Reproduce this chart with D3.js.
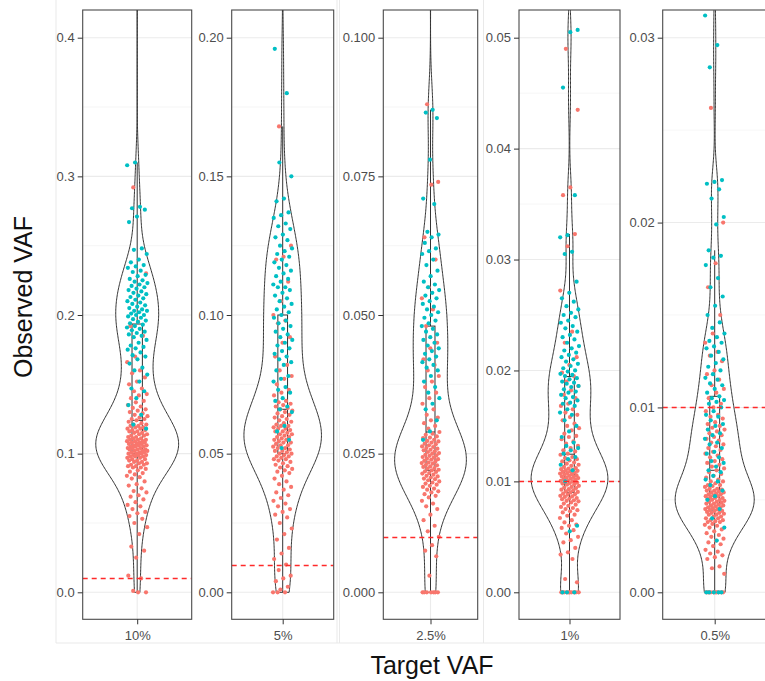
<!DOCTYPE html>
<html>
<head>
<meta charset="utf-8">
<script src="https://cdn.jsdelivr.net/npm/d3@7"></script>
<style>
body { margin: 0; background: #fff; }
svg { display: block; font-family: "Liberation Sans", Arial, sans-serif; }
</style>
</head>
<body>
<div id="chart"></div>
<script>
// facet labels and y tick labels, one set per target VAF
var targets = ["10%", "5%", "2.5%", "1%", "0.5%"];
var ticks10 = ["0.0", "0.1", "0.2", "0.3", "0.4"];
var ticks5 = ["0.00", "0.05", "0.10", "0.15", "0.20"];
var ticks25 = ["0.000", "0.025", "0.050", "0.075", "0.100"];
var ticks1 = ["0.00", "0.01", "0.02", "0.03", "0.04", "0.05"];
var ticks05 = ["0.00", "0.01", "0.02", "0.03"];
var refLine = [0.01, 0.01, 0.01, 0.01, 0.01];
// value units used by the point lists below
var units = [0.001, 0.001, 0.001, 0.0001, 0.0001];

// observed VAF per variant (10% target), x 0.001
var vaf10Teal = [520, 450, 310, 308, 278, 277, 276, 271, 267, 248, 247, 244, 240, 238, 236, 235, 234, 232, 231, 229, 228, 226, 225, 224, 223, 222, 221, 220, 219, 218, 217, 216, 215, 214, 213, 212, 211, 210, 209, 208, 207, 206, 205, 204, 203, 203, 202, 201, 200, 200, 199, 198, 197, 196, 195, 194, 193, 192, 191, 190, 189, 188, 187, 186, 185, 184, 182, 180, 178, 177, 176, 175, 173, 171, 170, 168, 165, 162, 160, 157, 152, 147, 145, 140, 135, 128, 121, 118];
var vaf10Red = [292, 230, 195, 192, 185, 170, 166, 160, 158, 155, 152, 150, 147, 145, 143, 142, 140, 138, 137, 135, 134, 133, 132, 131, 130, 129, 128, 127, 126, 125, 125, 124, 123, 122, 121, 121, 120, 120, 119, 119, 118, 118, 117, 117, 116, 116, 115, 115, 114, 114, 113, 113, 112, 112, 111, 111, 110, 110, 110, 109, 109, 109, 108, 108, 108, 107, 107, 107, 106, 106, 106, 105, 105, 105, 104, 104, 104, 103, 103, 103, 102, 102, 102, 101, 101, 101, 100, 100, 100, 99, 99, 99, 98, 98, 98, 97, 97, 96, 96, 95, 95, 94, 94, 93, 93, 92, 92, 91, 91, 90, 90, 89, 88, 87, 86, 85, 84, 83, 82, 80, 78, 77, 75, 73, 72, 70, 69, 67, 65, 63, 62, 60, 58, 57, 55, 53, 50, 47, 42, 33, 30, 25, 12, 10, 1, 0, 0];

// 5% target, x 0.001
var vaf5Teal = [260, 230, 196, 180, 155, 150, 142, 141, 137, 136, 135, 133, 132, 131, 129, 128, 127, 125, 124, 123, 122, 121, 120, 119, 118, 117, 116, 115, 114, 113, 112, 111, 110, 110, 109, 108, 107, 106, 105, 104, 103, 102, 101, 100, 99, 98, 97, 96, 95, 94, 93, 92, 91, 90, 89, 88, 87, 86, 85, 84, 83, 82, 80, 78, 77, 76, 74, 73, 72, 70, 69, 67, 66, 65, 60, 58, 55, 52];
var vaf5Red = [168, 125, 121, 120, 112, 105, 100, 98, 97, 92, 90, 85, 82, 80, 78, 77, 75, 73, 72, 71, 69, 68.5, 68, 67.5, 67, 66.5, 66, 65.5, 65, 64.5, 64, 63.5, 63, 62.5, 62, 61.5, 61, 60.5, 60, 60, 59.5, 59, 59, 58.5, 58, 58, 57.5, 57, 57, 56.5, 56, 56, 55.5, 55, 55, 54.5, 54, 54, 53.5, 53, 53, 52.5, 52, 52, 51.5, 51, 51, 50.5, 50, 50, 49.5, 49, 49, 48.5, 48, 48, 47.5, 47, 46.5, 46, 45.5, 45, 44.5, 44, 43.5, 43, 42, 41, 40, 39, 38, 37, 36, 35, 34, 33, 32, 31, 30, 29, 28, 27, 25, 23, 21, 19, 16, 14, 12, 10, 8, 6, 5, 4, 2, 1, 0, 0, 0];

// 2.5% target, x 0.001
var vaf25Teal = [130, 115, 87, 86.5, 85.5, 78, 71, 70, 65, 64.5, 64, 63, 62, 61.5, 61, 60, 59, 58, 57, 56, 55.5, 55, 54.5, 54, 53.5, 53, 52.5, 52, 51.5, 51, 50.5, 50, 49.5, 49, 48.5, 48, 47.5, 47, 46.5, 46, 45.5, 45, 44.5, 44, 43.5, 43, 42.5, 42, 41.5, 41, 40.5, 40, 39, 38, 37, 36, 35, 34, 33, 31, 29, 27.5];
var vaf25Red = [88, 74, 73.5, 64, 60, 55, 53, 51, 48, 45, 44, 42, 41, 40, 39, 38, 37, 36, 35, 34, 33, 32, 31.5, 31, 30.5, 30, 29.5, 28.9, 28.6, 28.4, 28.1, 27.9, 27.8, 27.5, 27.3, 27.2, 27.0, 26.8, 26.7, 26.5, 26.3, 26.2, 26.0, 25.9, 25.7, 25.6, 25.4, 25.3, 25.1, 25.0, 24.8, 24.7, 24.6, 24.4, 24.3, 24.1, 24.0, 23.9, 23.7, 23.6, 23.4, 23.3, 23.2, 23.0, 22.9, 22.7, 22.6, 22.4, 22.3, 22.1, 22.0, 21.8, 21.7, 21.5, 21.4, 21.2, 21.0, 20.9, 20.7, 20.5, 20.4, 20.2, 20.0, 19.8, 19.6, 19.4, 19.2, 19.0, 18.7, 18.5, 18.2, 18.0, 17.7, 17.4, 17.1, 16.5, 16, 15.5, 15, 14, 13, 12, 11, 10, 8.5, 7.5, 6.5, 3, 0, 0, 0, 0, 0, 0, 0];

// 1% target, x 0.0001
var vaf1Teal = [600, 560, 507, 505, 455, 358, 322, 320, 307, 305, 280, 270, 265, 262, 258, 255, 252, 250, 248, 245, 243, 240, 238, 235, 232, 230, 228, 225, 222, 220, 218, 216, 214, 212, 210, 208, 206, 204, 202, 200, 199, 197, 196, 195, 193, 192, 190, 189, 188, 186, 185, 183, 181, 180, 178, 176, 175, 173, 171, 170, 168, 165, 162, 160, 155, 150, 145, 140, 135, 132, 130, 128, 125, 122, 120, 115, 110, 100, 60, 55, 0, 0, 0];
var vaf1Red = [490, 435, 365, 358, 323, 312, 272, 235, 225, 212, 205, 198, 195, 190, 186, 182, 178, 175, 170, 168, 165, 162, 160, 158, 155, 152, 150, 148, 146, 143, 141, 140, 138, 136, 134, 132, 130, 128, 127, 125, 124, 122, 121, 120, 119, 118, 117, 116, 115, 114, 113, 112, 111.5, 111, 110.5, 110, 109.5, 109, 108.5, 108, 107.5, 107, 106.5, 106, 105.5, 105, 104.5, 104, 103.5, 103, 102.5, 102, 101.5, 101, 100.5, 100, 99.5, 99, 98.5, 98, 97.5, 97, 96, 95, 94.5, 94, 93, 92.5, 92, 91, 90.5, 90, 89, 88.5, 88, 87, 86.5, 86, 85, 84.5, 84, 83, 82.5, 82, 81, 80, 79, 78, 77, 76, 75, 74, 73, 72, 70, 69, 67, 65, 63, 61, 60, 58, 56, 53, 50, 47, 45, 40, 36, 34, 30, 12, 9, 0, 0, 0, 0, 0, 0, 0, 0, 0, 0];

// 0.5% target, x 0.0001
var vaf05Teal = [380, 340, 312, 296, 284, 223, 222, 221, 218, 213, 203, 199, 185, 182, 181, 177, 170, 165, 160, 155, 150, 146, 143, 140, 138, 136, 135, 133, 132, 130, 128, 126, 124, 122, 120, 118, 116, 115, 113, 112, 110, 108, 106, 105, 104, 103, 102, 100, 98, 96, 95, 93, 91, 90, 88, 86, 85, 83, 81, 80, 78, 76, 75, 73, 71, 70, 68, 66, 65, 63, 61, 60, 58, 55, 52, 50, 45, 40, 35, 28, 0, 0, 0, 0, 0];
var vaf05Red = [262, 200, 178, 165, 150, 140, 135, 130, 128, 125, 120, 118, 115, 112, 110, 108, 105, 102, 100, 98, 96, 95, 94, 92, 91, 90, 89, 88, 87, 86, 85, 84, 83, 82, 81, 80, 79, 78, 77, 76, 75, 74, 73, 72, 71, 70, 69, 68, 67, 66, 65, 64, 63, 62, 61, 60, 60, 59, 58, 58, 57.5, 57, 56, 56, 55.5, 55, 55, 54.5, 54, 54, 53.5, 53, 53, 52.5, 52, 52, 51.5, 51, 51, 50.5, 50, 50, 49.5, 49, 49, 48.5, 48, 48, 47.5, 47, 47, 46.5, 46, 46, 45.5, 45, 45, 44.5, 44, 44, 43.5, 43, 43, 42.5, 42, 42, 41, 41, 40, 40, 39, 39, 38.5, 38, 38, 37, 36.5, 36, 35, 34, 33, 32, 31, 30, 29, 28, 27, 26, 25, 23, 22, 21, 20, 19, 18, 14, 13, 10, 0, 0, 0, 0, 0, 0, 0, 0, 0, 0];

var tickSets = [ticks10, ticks5, ticks25, ticks1, ticks05];
var redSets = [vaf10Red, vaf5Red, vaf25Red, vaf1Red, vaf05Red];
var tealSets = [vaf10Teal, vaf5Teal, vaf25Teal, vaf1Teal, vaf05Teal];

var color_red = "#F8766D", color_teal = "#00BFC4";
var width = 765, height = 681;
var panelLeft = [82.7, 231.7, 383.3, 519, 662.7],
	panelRight = [191.7, 333.7, 477.7, 620, 766.7];
var panelTop = 10, panelBottom = 619.3,
	yZero = 592.3, yTopTick = 37.7;
var bwAdjust = 0.8;

function bwNrd0(v) {
	var s = d3.deviation(v),
		iqr = d3.quantile(v, 0.75) - d3.quantile(v, 0.25);
	var lo = Math.min(s, iqr / 1.34);
	if (!(lo > 0)) lo = s;
	return 0.9 * lo * Math.pow(v.length, -0.2);
}

function density(v, bw, n) {
	var lo = d3.min(v), hi = d3.max(v);
	return d3.range(n).map(function (k) {
		var y = lo + (hi - lo) * k / (n - 1), s = 0;
		for (var j = 0; j < v.length; j++) {
			var u = (y - v[j]) / bw;
			s += Math.exp(-0.5 * u * u);
		}
		return [y, s / (v.length * bw * Math.sqrt(2 * Math.PI))];
	});
}

var svg = d3.select("#chart").append("svg")
	.attr("width", width)
	.attr("height", height);

// faint frames of the pasted sub-figures
var frame = svg.append("g").attr("stroke", "#e9e9e9").attr("stroke-width", 1);
[56, 337, 339.5, 483.5].forEach(function (fx) {
	frame.append("line").attr("x1", fx).attr("x2", fx).attr("y1", 0).attr("y2", 643);
});
frame.append("line").attr("x1", 56).attr("x2", 765).attr("y1", 643).attr("y2", 643);

targets.forEach(function (target, i) {
	var labels = tickSets[i],
		tickVals = labels.map(function (d) { return +d; }),
		top = d3.max(tickVals),
		step = tickVals[1] - tickVals[0],
		unit = units[i];

	var red = redSets[i].map(function (d) { return d * unit; }),
		teal = tealSets[i].map(function (d) { return d * unit; }),
		all = red.concat(teal).sort(d3.ascending);

	var y = d3.scaleLinear().domain([0, top]).range([yZero, yTopTick]);
	var x = d3.scalePoint().domain([target]).range([panelLeft[i], panelRight[i]]).padding(0.5);
	var cx = x(target),
		pw = panelRight[i] - panelLeft[i];

	var g = svg.append("g");
	var clipId = "clip" + i;
	g.append("clipPath").attr("id", clipId)
		.append("rect")
		.attr("x", panelLeft[i]).attr("y", panelTop)
		.attr("width", pw).attr("height", panelBottom - panelTop);

	// grid
	var minor = d3.range(-1, tickVals.length + 1).map(function (k) { return (k + 0.5) * step; })
		.filter(function (d) { return y(d) > panelTop && y(d) < panelBottom; });
	g.selectAll(".minor").data(minor).enter().append("line")
		.attr("x1", panelLeft[i]).attr("x2", panelRight[i])
		.attr("y1", function (d) { return y(d); }).attr("y2", function (d) { return y(d); })
		.attr("stroke", "#f2f2f2").attr("stroke-width", 0.7);
	g.selectAll(".major").data(tickVals).enter().append("line")
		.attr("x1", panelLeft[i]).attr("x2", panelRight[i])
		.attr("y1", function (d) { return y(d); }).attr("y2", function (d) { return y(d); })
		.attr("stroke", "#ebebeb").attr("stroke-width", 1.1);
	g.append("line")
		.attr("x1", cx).attr("x2", cx).attr("y1", panelTop).attr("y2", panelBottom)
		.attr("stroke", "#ebebeb").attr("stroke-width", 1.1);

	var inner = g.append("g").attr("clip-path", "url(#" + clipId + ")");

	// violin
	var dens = density(all, bwAdjust * bwNrd0(all), 512);
	var w = d3.scaleLinear().domain([0, d3.max(dens, function (d) { return d[1]; })]).range([0, 0.38 * pw]);
	var area = d3.area()
		.x0(function (d) { return cx - w(d[1]); })
		.x1(function (d) { return cx + w(d[1]); })
		.y(function (d) { return y(d[0]); });
	inner.append("path").datum(dens)
		.attr("d", area)
		.attr("fill", "#fff")
		.attr("stroke", "#333")
		.attr("stroke-width", 1);

	// narrow box
	var q1 = d3.quantile(all, 0.25), q2 = d3.quantile(all, 0.5), q3 = d3.quantile(all, 0.75),
		iqr = q3 - q1;
	var hiW = d3.max(all.filter(function (d) { return d <= q3 + 1.5 * iqr; })),
		loW = d3.min(all.filter(function (d) { return d >= q1 - 1.5 * iqr; }));
	var bw = 0.095 * pw;
	inner.append("line").attr("x1", cx).attr("x2", cx)
		.attr("y1", y(q3)).attr("y2", y(hiW)).attr("stroke", "#333");
	inner.append("line").attr("x1", cx).attr("x2", cx)
		.attr("y1", y(q1)).attr("y2", y(loW)).attr("stroke", "#333");
	inner.append("rect")
		.attr("x", cx - bw / 2).attr("width", bw)
		.attr("y", y(q3)).attr("height", y(q1) - y(q3))
		.attr("fill", "#fff").attr("stroke", "#333").attr("stroke-width", 1);
	inner.append("line").attr("x1", cx - bw / 2).attr("x2", cx + bw / 2)
		.attr("y1", y(q2)).attr("y2", y(q2)).attr("stroke", "#333").attr("stroke-width", 1);

	// jittered points
	var pts = red.map(function (d) { return {v: d, c: color_red}; })
		.concat(teal.map(function (d) { return {v: d, c: color_teal}; }));
	var jw = 0.095 * pw;
	inner.selectAll(".pt").data(pts).enter().append("circle")
		.attr("class", "pt")
		.attr("cx", function (d, k) { return cx + (((k * 0.6180339887 + 0.31) % 1) - 0.5) * 2 * jw; })
		.attr("cy", function (d) { return y(d.v); })
		.attr("r", 2.1)
		.attr("fill", function (d) { return d.c; });

	// reference line
	var ry = Math.round(y(refLine[i])) + 0.5;
	inner.append("line")
		.attr("x1", panelLeft[i]).attr("x2", panelRight[i])
		.attr("y1", ry).attr("y2", ry)
		.attr("stroke", "#ff2a2a").attr("stroke-width", 1.4)
		.attr("stroke-dasharray", "5,4");

	// border
	g.append("rect")
		.attr("x", panelLeft[i]).attr("y", panelTop)
		.attr("width", pw).attr("height", panelBottom - panelTop)
		.attr("fill", "none").attr("stroke", "#4a4a4a").attr("stroke-width", 1.1);

	// axes
	var ya = g.append("g")
		.attr("transform", "translate(" + panelLeft[i] + ",0)")
		.call(d3.axisLeft(y).tickValues(tickVals)
			.tickFormat(function (d, k) { return labels[k]; })
			.tickSize(5).tickPadding(3));
	var xa = g.append("g")
		.attr("transform", "translate(0," + panelBottom + ")")
		.call(d3.axisBottom(x).tickSize(5).tickPadding(6));
	[ya, xa].forEach(function (a) {
		a.select(".domain").remove();
		a.selectAll(".tick line").attr("stroke", "#333");
		a.selectAll(".tick text").attr("fill", "#4d4d4d")
			.style("font-size", "13px")
			.style("font-family", "\"Liberation Sans\", Arial, sans-serif");
	});
});

svg.append("text")
	.attr("transform", "translate(32,297) rotate(-90)")
	.attr("text-anchor", "middle")
	.attr("fill", "#111")
	.style("font-size", "25px")
	.text("Observed VAF");

svg.append("text")
	.attr("x", 432).attr("y", 674)
	.attr("text-anchor", "middle")
	.attr("fill", "#111")
	.style("font-size", "25px")
	.text("Target VAF");
</script>
</body>
</html>
